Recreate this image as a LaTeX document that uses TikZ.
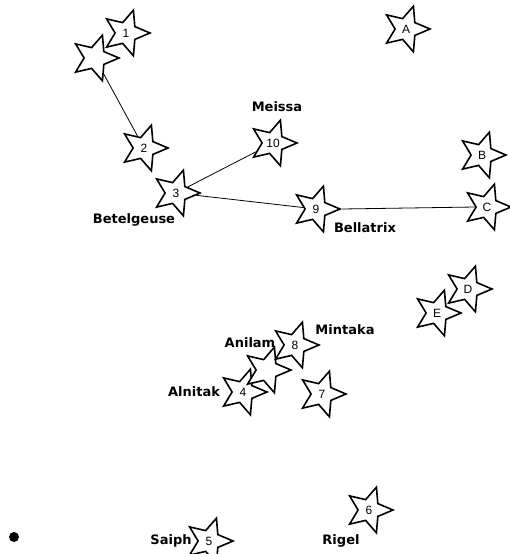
\documentclass[tikz,border=0pt]{standalone}
\usepackage{fontspec}
\setmainfont{DejaVu Sans}
\newfontfamily\numfont{Liberation Sans}
\usetikzlibrary{shapes.geometric}

\begin{document}
\begin{tikzpicture}[x=1pt,y=-1pt]
        \tikzstyle{brightstar}=[star,star points=5,star point ratio=2.2,shape border rotate=-90,draw=black,line width=1.6pt,fill=white,minimum size=48pt,inner sep=0pt,font=\numfont\fontsize{12}{12}\selectfont]
        \tikzstyle{starname}=[inner sep=0pt,font=\bfseries\fontsize{13}{13}\selectfont]
        \tikzstyle{edge}=[draw=black,line width=0.8pt]

        \useasboundingbox (0,0) rectangle (509,554);

        \node [brightstar] (s1) at (126,33) {1};
        \node [brightstar] (u1) at (95,58) {};
        \node [brightstar] (s2) at (144,148) {2};
        \node [brightstar] (s3) at (176,193) {3};
        \node [brightstar] (s10) at (273,143) {10};
        \node [brightstar] (s9) at (316,209) {9};

        \node [brightstar] (sA) at (406,29) {A};
        \node [brightstar] (sB) at (482,155) {B};
        \node [brightstar] (sC) at (487,207) {C};
        \node [brightstar] (sD) at (468,289) {D};
        \node [brightstar] (sE) at (437,313) {E};

        \node [brightstar] (s4) at (243,392) {4};
        \node [brightstar] (u2) at (267,370) {};
        \node [brightstar] (s8) at (295,345) {8};
        \node [brightstar] (s7) at (322,394) {7};
        \node [brightstar] (s6) at (369,510) {6};
        \node [brightstar] (s5) at (209,541) {5};

        \node [starname] (meissa) at (277,107) {Meissa};
        \node [starname] (betelgeuse) at (134,220) {Betelgeuse};
        \node [starname] (bellatrix) at (365,228) {Bellatrix};
        \node [starname] (anilam) at (250,343) {Anilam};
        \node [starname] (mintaka) at (345,330) {Mintaka};
        \node [starname] (alnitak) at (194,392) {Alnitak};
        \node [starname] (saiph) at (171,541) {Saiph};
        \node [starname] (rigel) at (341,541) {Rigel};

        \node [circle,fill=black,inner sep=0pt,minimum size=10pt] (dot) at (14,537) {};

        \path[edge] (u1) edge (s2);
        \path[edge] (s3) edge (s10);
        \path[edge] (s3) edge (s9);
        \path[edge] (s9.east) edge (sC.west);
\end{tikzpicture}
\end{document}
